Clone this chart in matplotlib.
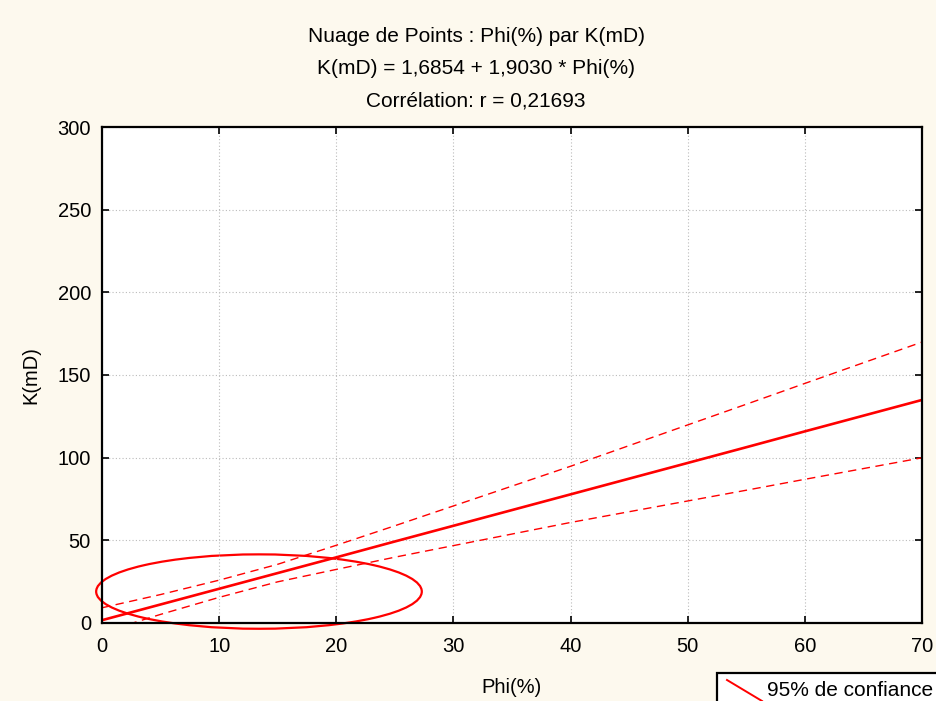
import matplotlib.pyplot as plt
from matplotlib.patches import Ellipse, Rectangle
from matplotlib.lines import Line2D

plt.rcParams['font.family'] = ['Liberation Sans', 'DejaVu Sans']

# valeurs
phi = [0, 5, 10, 15, 20, 25, 30, 35, 40, 45, 50, 55, 60, 65, 70]
k_reg = [1.69, 11.2, 20.7, 30.2, 39.7, 49.3, 58.8, 68.3, 77.8, 87.3, 96.8, 106.3, 115.9, 125.4, 134.9]
k_haut = [9.2, 17.2, 25.9, 35.5, 47.0, 58.8, 70.8, 82.8, 94.8, 107.3, 119.8, 132.3, 144.9, 157.4, 169.9]
k_bas = [-5.8, 5.2, 15.5, 24.9, 32.4, 39.8, 46.8, 53.8, 60.8, 67.3, 73.8, 80.3, 86.9, 93.4, 99.9]

ell_centre = (13.4, 19.0)
ell_larg = 27.8
ell_haut = 45.0

titres = ["Nuage de Points : Phi(%) par K(mD)",
          "K(mD) = 1,6854 + 1,9030 * Phi(%)",
          "Corrélation: r = 0,21693"]

fond = '#fdf9ee'

fig = plt.figure(figsize=(9.36, 7.01), dpi=100, facecolor=fond)
ax = fig.add_axes([0.109, 0.1113, 0.876, 0.7075])
ax.set_facecolor('white')

ax.plot(phi, k_reg, color='red', lw=1.9)
ax.plot(phi, k_haut, color='red', lw=1.0, dashes=(6, 4))
ax.plot(phi, k_bas, color='red', lw=1.0, dashes=(6, 4))

ell = Ellipse(ell_centre, ell_larg, ell_haut, fill=False, edgecolor='red', lw=1.6, clip_on=False)
ax.add_patch(ell)

ax.set_xlim(0, 70)
ax.set_ylim(0, 300)
ax.set_xticks(range(0, 71, 10))
ax.set_yticks(range(0, 301, 50))
ax.grid(True, color='#bbbbbb', linestyle=(0, (1, 2)), lw=0.8)
ax.tick_params(direction='in', length=5, width=1.2, top=True, right=True,
               labelsize=14.5)
ax.tick_params(axis='x', pad=10)
ax.tick_params(axis='y', pad=8)
for s in ax.spines.values():
    s.set_linewidth(1.6)

ax.set_xlabel("Phi(%)", fontsize=14.5, labelpad=16)
ax.set_ylabel("K(mD)", fontsize=14.5, labelpad=12)

for i, t in enumerate(titres):
    fig.text(476 / 936, 1 - (37 + 32 * i) / 701, t, ha='center', va='center', fontsize=15)

# légende (coupée par le bord)
fig.add_artist(Rectangle((717 / 936, -0.01), 0.3, (701 - 673) / 701 + 0.01,
                         transform=fig.transFigure, facecolor='white',
                         edgecolor='black', lw=1.6, clip_on=False))
fig.add_artist(Line2D([727 / 936, 762 / 936], [1 - 680 / 701, 1 - 701 / 701],
                      transform=fig.transFigure, color='red', lw=1.4))
fig.text(767 / 936, 1 - 690 / 701, "95% de confiance", ha='left', va='center', fontsize=15)

fig.savefig('out.png', dpi=100, facecolor=fond)
